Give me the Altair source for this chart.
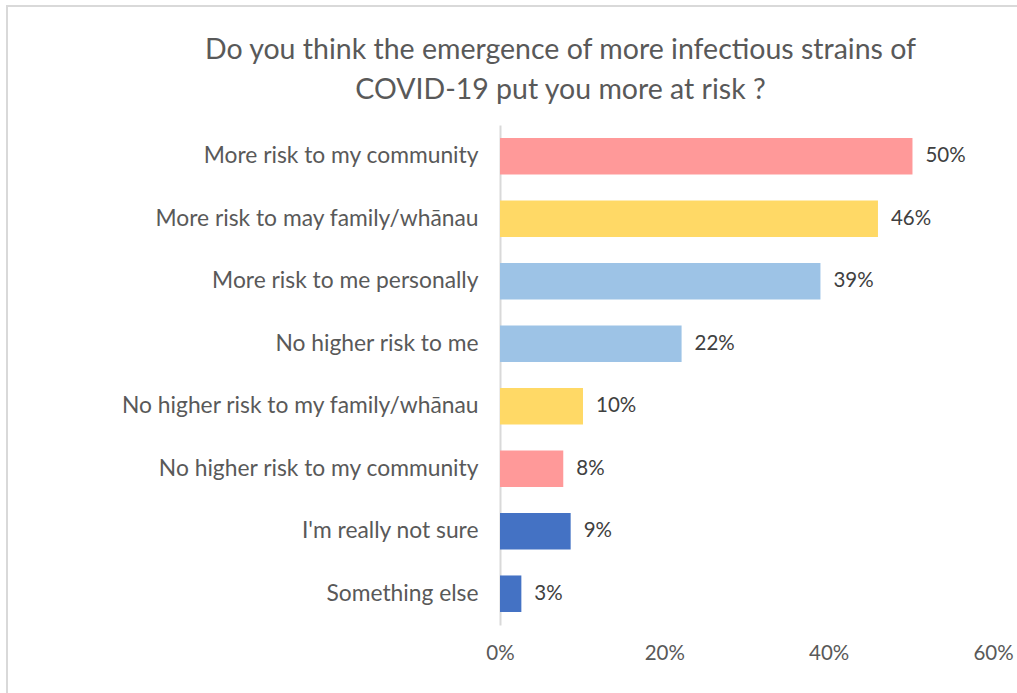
import altair as alt
import pandas as pd

categories = [
    "More risk to my community",
    "More risk to may family/whānau",
    "More risk to me personally",
    "No higher risk to me",
    "No higher risk to my family/whānau",
    "No higher risk to my community",
    "I'm really not sure",
    "Something else",
]
values = [0.502, 0.460, 0.390, 0.221, 0.101, 0.077, 0.086, 0.026]
colors = ["#FF9999", "#FFD966", "#9DC3E6", "#9DC3E6", "#FFD966", "#FF9999", "#4472C4", "#4472C4"]
x_ticks = [0, 0.2, 0.4, 0.6]

df = pd.DataFrame({"category": categories, "value": values})

FONT = "Lato"
GREY = "#595959"

y_enc = alt.Y(
    "category:N",
    sort=categories,
    scale=alt.Scale(paddingInner=0.415),
    axis=alt.Axis(
        title=None, ticks=False, domain=True, domainColor="#d9d9d9", domainWidth=2,
        labelFont=FONT, labelFontSize=22.8, labelColor=GREY, labelPadding=22, labelLimit=450,
    ),
)
x_enc = alt.X(
    "value:Q",
    scale=alt.Scale(domain=[0, 0.6], nice=False),
    axis=alt.Axis(
        title=None, values=x_ticks, format=".0%", grid=False, ticks=False, domain=False,
        labelFlush=False,
        labelFont=FONT, labelFontSize=20.5, labelColor=GREY, labelPadding=18,
    ),
)

bars = alt.Chart(df).mark_bar().encode(
    x=x_enc,
    y=y_enc,
    color=alt.Color("category:N", scale=alt.Scale(domain=categories, range=colors), legend=None),
)

labels = alt.Chart(df).mark_text(
    align="left", baseline="middle", dx=13, font=FONT, fontSize=20.5, color="#404040"
).encode(
    x="value:Q",
    y=alt.Y("category:N", sort=categories),
    text=alt.Text("value:Q", format=".0%"),
)

border_left = alt.Chart(df).mark_rule(color="#d9d9d9", strokeWidth=2).encode(
    x=alt.value(-493), y=alt.value(-119), y2=alt.value(600)
)
border_top = alt.Chart(df).mark_rule(color="#d9d9d9", strokeWidth=2).encode(
    x=alt.value(-494), x2=alt.value(530), y=alt.value(-119)
)

chart = alt.layer(border_left, border_top, bars, labels).properties(
    width=493,
    height=500,
    title=alt.TitleParams(
        text=["Do you think the emergence of more infectious strains of", "COVID-19 put you more at risk ?"],
        font=FONT, fontSize=28.5, fontWeight="normal", color=GREY, lineHeight=40,
        anchor="middle", dx=-186, dy=119, offset=20,
    ),
    padding={"left": 500, "top": 125, "right": 24, "bottom": 68},
    autosize=alt.AutoSizeParams(type="none"),
).configure(background="white", view=alt.ViewConfig(strokeWidth=0, stroke=None))

chart.save("out.html", embed_options={"renderer": "svg", "actions": False})
